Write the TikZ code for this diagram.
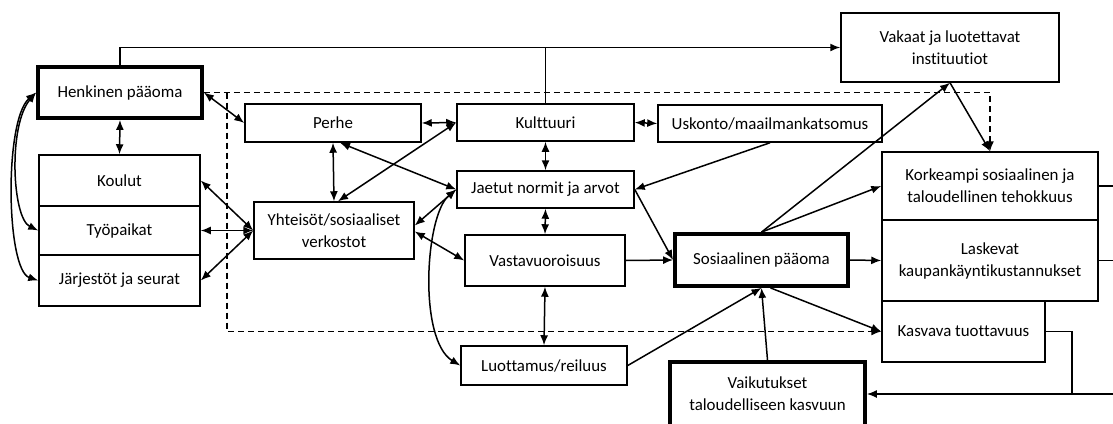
\documentclass[tikz,border=0pt]{standalone}
\usepackage{fontspec}
\setmainfont{Carlito}[Ligatures=NoCommon]
\usetikzlibrary{calc,arrows.meta}
\tikzset{
  box/.style={draw, line width=1.5pt, inner sep=0pt, align=center, font=\fontsize{16.9}{22}\selectfont},
  kbox/.style={box, line width=3.8pt},
  link/.style={line width=1.5pt},
  uni/.style={link, -{Latex[length=10pt,width=8pt]}},
  bi/.style={link, {Latex[length=10pt,width=8pt]}-{Latex[length=10pt,width=8pt]}},
  feed/.style={link, dash pattern=on 6pt off 4pt, -{Latex[length=10pt,width=8pt]}},
}
\begin{document}
\begin{tikzpicture}[x=1pt,y=-1pt]
  \useasboundingbox (0,0) rectangle (1113,423);

  % left column
  \node[kbox, minimum width=164pt, minimum height=51pt] (henk) at (120,92.5) {Henkinen pääoma};
  \node[box, minimum width=161pt, minimum height=51pt] (koulut) at (119.5,180.5) {Koulut};
  \node[box, minimum width=161pt, minimum height=49pt] (tyo) at (119.5,230.5) {Työpaikat};
  \node[box, minimum width=161pt, minimum height=51pt] (jarj) at (119.5,280.5) {Järjestöt ja seurat};

  % inside the dashed frame
  \node[box, minimum width=176pt, minimum height=38pt] (perhe) at (333,123) {Perhe};
  \node[box, minimum width=160pt, minimum height=57pt] (yht) at (334,230.5) {Yhteisöt/sosiaaliset\\verkostot};
  \node[box, minimum width=177pt, minimum height=37pt] (kult) at (545.5,122.5) {Kulttuuri};
  \node[box, minimum width=224pt, minimum height=37pt] (usk) at (770,123.5) {Uskonto/maailmankatsomus};
  \node[box, minimum width=177pt, minimum height=37pt] (jaetut) at (545.5,189.5) {Jaetut normit ja arvot};
  \node[box, minimum width=160pt, minimum height=51pt] (vast) at (545,260.5) {Vastavuoroisuus};
  \node[box, minimum width=166pt, minimum height=39pt] (luot) at (544,365.5) {Luottamus/reiluus};
  \node[kbox, minimum width=173pt, minimum height=52pt] (sos) at (761.5,260) {Sosiaalinen pääoma};

  % outcomes
  \node[box, minimum width=218pt, minimum height=69pt] (vakaat) at (950,47.5) {Vakaat ja luotettavat\\instituutiot};
  \node[box, minimum width=216pt, minimum height=68pt] (kork) at (990,186) {Korkeampi sosiaalinen ja\\taloudellinen tehokkuus};
  \node[box, minimum width=216pt, minimum height=81pt] (lask) at (990,260.5) {Laskevat\\kaupankäyntikustannukset};
  \node[box, minimum width=163pt, minimum height=61pt] (kasv) at (963.5,331.5) {Kasvava tuottavuus};
  \node[kbox, minimum width=195pt, minimum height=64pt] (vaik) at (767.5,394) {Vaikutukset\\taloudelliseen kasvuun};

  \coordinate (dashL) at (227,92.5);
  \coordinate (edge) at (1125,394);
  \coordinate (kjoin) at (1072,394);

  % dashed frame
  \draw[feed] (henk.east) -| (kork.north);
  \draw[feed] (dashL) |- (kasv.west);

  % top line
  \draw[uni] (henk.north) |- (vakaat.west);
  \draw[link] (kult.north) -- (kult.north |- vakaat.west);

  % left side
  \draw[bi] (henk.west) .. controls (8,125) and (12,218) .. (tyo.west);
  \draw[bi] (henk.west) .. controls (4,120) and (6,270) .. (jarj.west);
  \draw[bi] (henk.south) -- (koulut.north);
  \draw[bi] (henk.east) -- (perhe.west);
  \draw[bi] (yht.west) -- (koulut.east);
  \draw[bi] (yht.west) -- (tyo.east);
  \draw[bi] (yht.west) -- (jarj.east);

  % social network
  \draw[bi] (perhe.south) -- (yht.north);
  \draw[bi] (perhe.east) -- (kult.west);
  \draw[bi] ($(perhe.south)+(7,0)$) -- (jaetut.west);
  \draw[bi] ($(yht.north)+(4,0)$) -- (kult.west);
  \draw[bi] ($(yht.east)+(0,-5)$) -- (jaetut.west);
  \draw[bi] ($(yht.east)+(0,1)$) -- (vast.west);
  \draw[bi] (jaetut.west) .. controls (425,215) and (418,340) .. (luot.west);
  \draw[bi] (kult.south) -- (jaetut.north);
  \draw[bi] (kult.east) -- (usk.west);
  \draw[uni] (usk.south) -- (jaetut.east);
  \draw[bi] (jaetut.south) -- (vast.north);
  \draw[bi] (vast.south) -- (luot.north);

  % into social capital
  \draw[uni] (jaetut.east) -- (sos.west);
  \draw[uni] (vast.east) -- (sos.west);
  \draw[uni] (luot.east) -- (sos.south);
  \draw[uni] (vaik.north) -- (sos.south);

  % out of social capital
  \draw[uni] (sos.north) -- (vakaat.south);
  \draw[uni] (sos.north) -- (kork.west);
  \draw[uni] (sos.east) -- (lask.west);
  \draw[uni] ($(sos.south)+(9,0)$) -- (kasv.west);
  \draw[uni] (vakaat.south) -- (kork.north);

  % feedback
  \draw[link] (kork.east) -| (edge);
  \draw[link] (lask.east) -- (lask.east -| edge);
  \draw[link] (kasv.east) -| (kjoin);
  \draw[uni] (edge) -- (vaik.east);
\end{tikzpicture}
\end{document}
